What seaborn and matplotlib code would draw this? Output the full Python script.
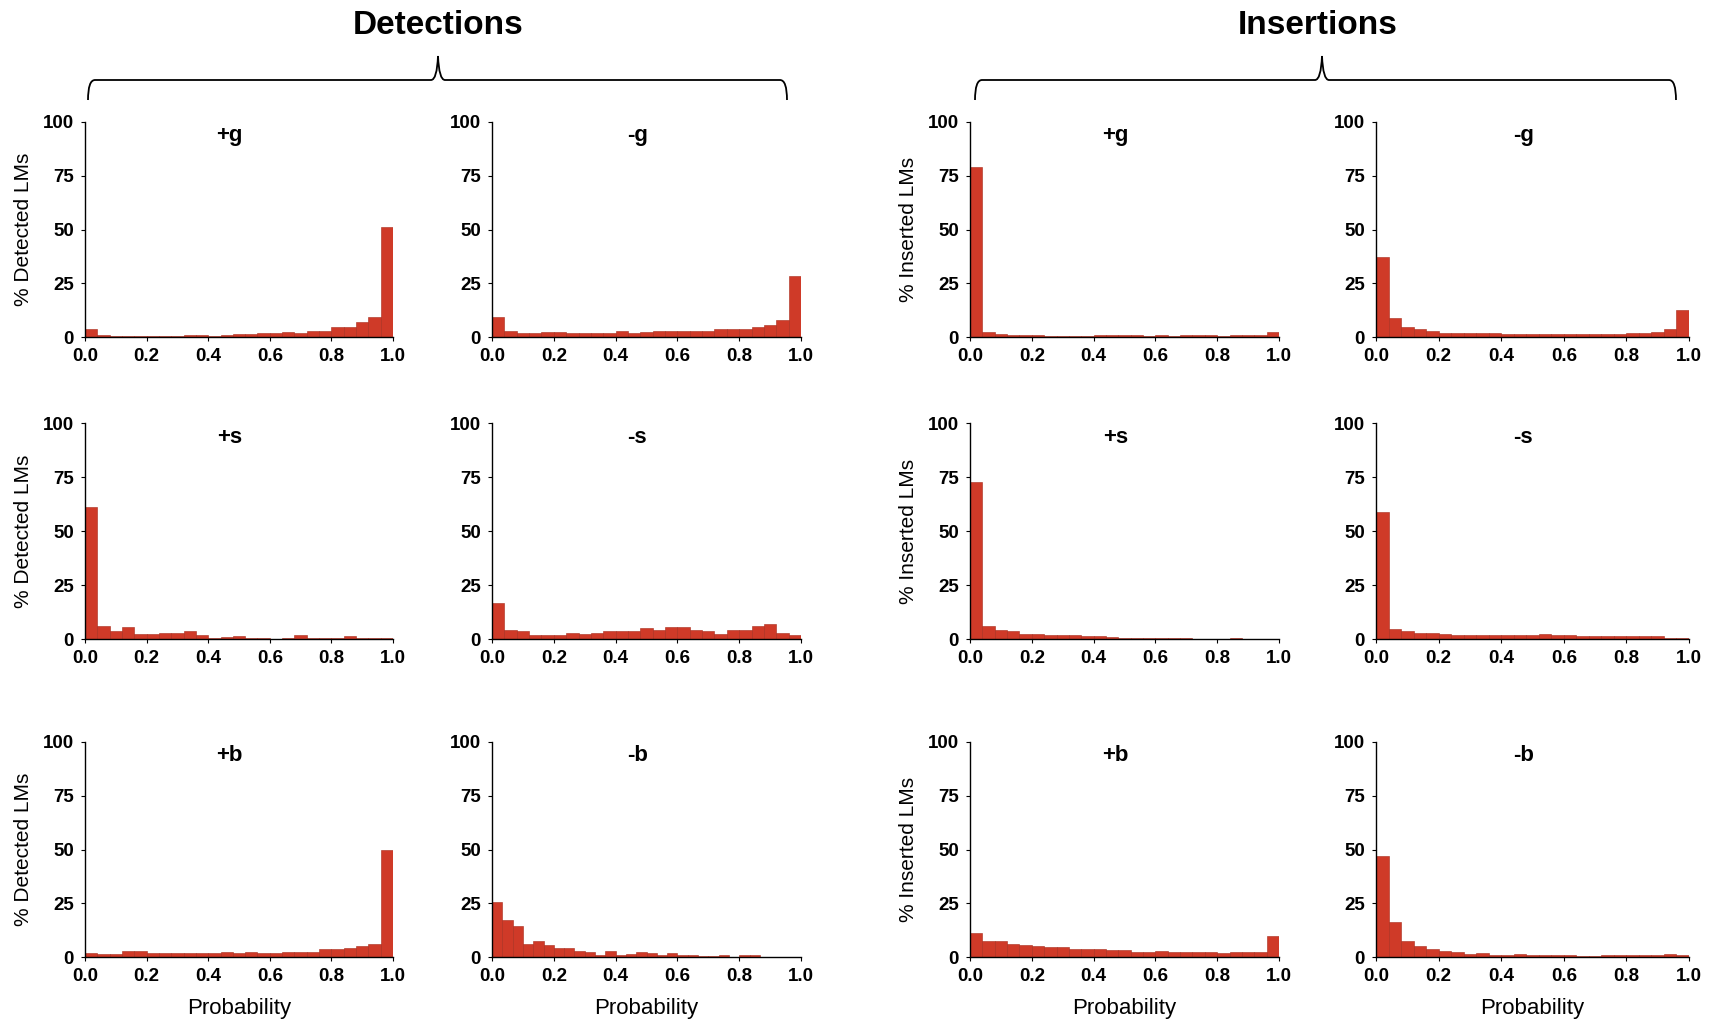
import numpy as np
import pandas as pd
import matplotlib
matplotlib.use("Agg")
import matplotlib.pyplot as plt
from matplotlib.path import Path
from matplotlib.patches import PathPatch
import seaborn as sns

# ---------------- data (percent of LMs per probability bin) ----------------
det_plus_g = [3.5, 1, 0.5, 0.5, 0.3, 0.5, 0.5, 0.5, 0.7, 0.7, 0.6, 1, 1.2, 1.5, 1.7, 1.8,
              2.2, 2, 3, 2.8, 4.5, 4.5, 7, 9.5, 51]
det_minus_g = [9.5, 3, 2, 2, 2.5, 2.5, 2, 2, 2, 2, 3, 2, 2.5, 3, 2.8, 3, 3, 3, 3.5, 3.5,
               3.8, 4.5, 5.5, 8, 28.5]
ins_plus_g = [79, 2.5, 1.5, 1, 0.8, 0.7, 0.5, 0.6, 0.6, 0.6, 1, 0.8, 0.8, 0.7, 0.6, 0.8,
              0.6, 0.7, 0.8, 0.7, 0.6, 0.7, 0.7, 1, 2.5]
ins_minus_g = [37, 9, 4.5, 3.5, 2.8, 2, 2, 2, 1.8, 1.8, 1.5, 1.5, 1.5, 1.5, 1.3, 1.5, 1.5,
               1.3, 1.3, 1.5, 1.8, 2, 2.5, 3.5, 12.5]
det_plus_s = [61, 6, 3.5, 5.5, 2.5, 2.5, 2.8, 2.8, 3.8, 2, 0.5, 1, 1.5, 0.5, 0.3, 0.2, 0.3,
              2, 0.5, 0.3, 0.3, 1.2, 0.3, 0.6, 0.5]
det_minus_s = [16.5, 4, 3.5, 2, 2, 1.8, 2.8, 2.2, 2.8, 3.5, 3.5, 3.5, 5, 4, 5.5, 5.5, 4,
               3.5, 2.5, 4, 4, 5.8, 7, 3, 2]
ins_plus_s = [72.5, 6, 4, 3.5, 2.5, 2.2, 2, 2, 1.8, 1.5, 1.5, 0.8, 0.6, 0.6, 0.5, 0.6, 0.4,
              0.3, 0.2, 0.2, 0.2, 0.3, 0.2, 0.1, 0.1]
ins_minus_s = [59, 4.5, 3.5, 3, 2.8, 2.2, 2, 1.8, 1.8, 1.8, 1.8, 1.8, 1.8, 2.5, 2, 2, 1.5,
               1.3, 1.2, 1.2, 1.3, 1.5, 1.2, 0.5, 0.5]
det_plus_b = [1.8, 1.5, 1.2, 2.8, 2.8, 2, 2, 2, 1.8, 1.8, 2, 2.2, 1.8, 2.2, 1.8, 1.8, 2.5,
              2.5, 2.5, 3.5, 3.8, 4, 5, 6, 50]
det_minus_b = [25.5, 17, 14.5, 6, 7.5, 5.5, 4, 4.2, 3, 2.5, 1, 3, 1, 1.5, 2.5, 2, 1, 2, 1,
               0.8, 0.3, 0.3, 1, 0.2, 1, 1, 0.1, 0, 0, 0]
ins_plus_b = [11, 7.5, 7.5, 6, 5.5, 5, 4.8, 4.5, 3.5, 3.5, 3.5, 3.3, 3.2, 2.5, 2.5, 3, 2.5,
              2.5, 2.2, 2.5, 2, 2.5, 2.5, 2.5, 10]
ins_minus_b = [47, 16.5, 7.5, 5, 3.5, 3, 2.5, 1.5, 2, 1, 1, 1.2, 1, 0.7, 0.8, 0.8, 0.6, 0.5,
               0.8, 0.8, 0.8, 0.8, 0.8, 1.2, 0.8]

panel_titles = [["+g", "-g", "+g", "-g"],
                ["+s", "-s", "+s", "-s"],
                ["+b", "-b", "+b", "-b"]]
panel_data = [[det_plus_g, det_minus_g, ins_plus_g, ins_minus_g],
              [det_plus_s, det_minus_s, ins_plus_s, ins_minus_s],
              [det_plus_b, det_minus_b, ins_plus_b, ins_minus_b]]
ylabels = ["% Detected LMs", "% Inserted LMs"]
group_titles = ["Detections", "Insertions"]
x_ticks = [0.0, 0.2, 0.4, 0.6, 0.8, 1.0]
y_ticks = [0, 25, 50, 75, 100]

# ---------------- style ----------------
sns.set_theme(style="white")
plt.rcParams["font.family"] = ["Liberation Sans", "DejaVu Sans"]
plt.rcParams["text.color"] = "black"
plt.rcParams["axes.labelcolor"] = "black"
plt.rcParams["xtick.color"] = "black"
plt.rcParams["ytick.color"] = "black"
BAR = "#cf3a28"
EDGE = "#a82a1a"

W, H = 1718, 1026
fig = plt.figure(figsize=(W / 100, H / 100), dpi=100)

col_lr = [(85, 393), (492, 801), (970, 1279), (1376, 1689)]
row_tb = [(122, 337), (423, 639), (742, 957)]


def px_axes(l, r, t, b):
    return [l / W, 1 - b / H, (r - l) / W, (b - t) / H]


for i in range(3):
    for j in range(4):
        l, r = col_lr[j]
        t, b = row_tb[i]
        ax = fig.add_axes(px_axes(l, r, t, b))
        vals = [float(v) for v in panel_data[i][j]]
        n = len(vals)
        centers = [(k + 0.5) / n for k in range(n)]
        df = pd.DataFrame({"p": centers, "pct": vals})
        sns.histplot(data=df, x="p", weights="pct", bins=n, binrange=(0.0, 1.0),
                     ax=ax, color=BAR, edgecolor=EDGE, linewidth=0.4, alpha=1.0)
        ax.set_xlim(0, 1.0)
        ax.set_ylim(0, 100)
        ax.set_xticks(x_ticks)
        ax.set_xticklabels([f"{v:.1f}" for v in x_ticks])
        ax.set_yticks(y_ticks)
        for s in ["top", "right"]:
            ax.spines[s].set_visible(False)
        for s in ["left", "bottom"]:
            ax.spines[s].set_color("black")
            ax.spines[s].set_linewidth(1.0)
        ax.tick_params(axis="both", direction="out", length=3, width=0.8,
                       colors="black", labelsize=13.5, pad=5, bottom=True, left=True)
        for lab in ax.get_xticklabels() + ax.get_yticklabels():
            lab.set_fontweight("bold")
        ax.text(0.47, 0.935, panel_titles[i][j], transform=ax.transAxes,
                ha="center", va="center", fontsize=16, fontweight="bold")
        if j in (0, 2):
            ax.set_ylabel(ylabels[j // 2], fontsize=15, labelpad=7)
        else:
            ax.set_ylabel("")
        if i == 2:
            ax.set_xlabel("Probability", fontsize=16, labelpad=9)
        else:
            ax.set_xlabel("")


def brace(x0, x1, xc, y_line, y_end, y_tip):
    def f(x, y):
        return (x / W, 1 - y / H)
    r = 7
    verts = [f(x0, y_end), f(x0, y_line), f(x0 + r, y_line),
             f(xc - r, y_line),
             f(xc - 1, y_line), f(xc, y_tip),
             f(xc + 1, y_line), f(xc + r, y_line),
             f(x1 - r, y_line),
             f(x1, y_line), f(x1, y_end)]
    codes = [Path.MOVETO, Path.CURVE3, Path.CURVE3,
             Path.LINETO,
             Path.CURVE3, Path.CURVE3,
             Path.CURVE3, Path.CURVE3,
             Path.LINETO,
             Path.CURVE3, Path.CURVE3]
    patch = PathPatch(Path(verts, codes), transform=fig.transFigure,
                      facecolor="none", edgecolor="black", lw=1.3)
    fig.patches.append(patch)


brace(88, 787, 438, 80, 100, 56)
brace(975, 1676, 1322, 80, 100, 56)

fig.text(438 / W, 1 - 25 / H, group_titles[0], ha="center", va="center",
         fontsize=24, fontweight="bold")
fig.text(1318 / W, 1 - 25 / H, group_titles[1], ha="center", va="center",
         fontsize=24, fontweight="bold")

fig.savefig("out.png", dpi=100, facecolor="white")
